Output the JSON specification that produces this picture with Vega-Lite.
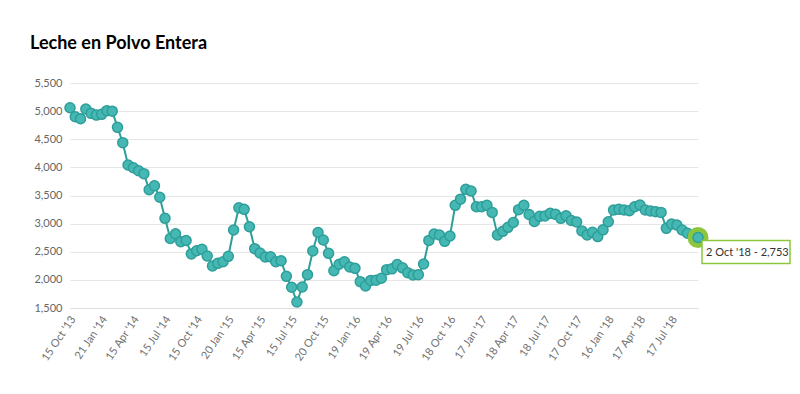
{
  "$schema": "https://vega.github.io/schema/vega-lite/v6.json",
  "autosize": {"type": "none"},
  "padding": {"left": 70, "top": 83, "right": 102, "bottom": 86},
  "width": 628,
  "height": 225,
  "background": "#ffffff",
  "title": {
    "text": "Leche en Polvo Entera",
    "anchor": "start",
    "frame": "group",
    "font": "Lato",
    "fontSize": 18,
    "fontWeight": "bold",
    "color": "#000000",
    "dx": -40,
    "offset": 10,
    "baseline": "alphabetic"
  },
  "datasets": {
    "serie": [
      {"fecha": "15 Oct '13", "precio": 5061},
      {"fecha": "5 Nov '13", "precio": 4900},
      {"fecha": "19 Nov '13", "precio": 4865},
      {"fecha": "3 Dec '13", "precio": 5038},
      {"fecha": "17 Dec '13", "precio": 4961},
      {"fecha": "7 Jan '14", "precio": 4930},
      {"fecha": "21 Jan '14", "precio": 4943},
      {"fecha": "4 Feb '14", "precio": 5008},
      {"fecha": "18 Feb '14", "precio": 5000},
      {"fecha": "4 Mar '14", "precio": 4712},
      {"fecha": "18 Mar '14", "precio": 4439},
      {"fecha": "1 Apr '14", "precio": 4042},
      {"fecha": "15 Apr '14", "precio": 3994},
      {"fecha": "6 May '14", "precio": 3941},
      {"fecha": "20 May '14", "precio": 3888},
      {"fecha": "3 Jun '14", "precio": 3603},
      {"fecha": "17 Jun '14", "precio": 3674},
      {"fecha": "1 Jul '14", "precio": 3468},
      {"fecha": "15 Jul '14", "precio": 3094},
      {"fecha": "5 Aug '14", "precio": 2735},
      {"fecha": "19 Aug '14", "precio": 2820},
      {"fecha": "2 Sep '14", "precio": 2680},
      {"fecha": "16 Sep '14", "precio": 2700},
      {"fecha": "1 Oct '14", "precio": 2462},
      {"fecha": "15 Oct '14", "precio": 2518},
      {"fecha": "4 Nov '14", "precio": 2543},
      {"fecha": "18 Nov '14", "precio": 2424},
      {"fecha": "2 Dec '14", "precio": 2246},
      {"fecha": "16 Dec '14", "precio": 2294},
      {"fecha": "6 Jan '15", "precio": 2323},
      {"fecha": "20 Jan '15", "precio": 2418},
      {"fecha": "3 Feb '15", "precio": 2886},
      {"fecha": "17 Feb '15", "precio": 3283},
      {"fecha": "3 Mar '15", "precio": 3254},
      {"fecha": "17 Mar '15", "precio": 2945},
      {"fecha": "1 Apr '15", "precio": 2555},
      {"fecha": "15 Apr '15", "precio": 2478},
      {"fecha": "5 May '15", "precio": 2406},
      {"fecha": "19 May '15", "precio": 2410},
      {"fecha": "2 Jun '15", "precio": 2323},
      {"fecha": "16 Jun '15", "precio": 2341},
      {"fecha": "1 Jul '15", "precio": 2063},
      {"fecha": "15 Jul '15", "precio": 1868},
      {"fecha": "4 Aug '15", "precio": 1606},
      {"fecha": "18 Aug '15", "precio": 1873},
      {"fecha": "1 Sep '15", "precio": 2093},
      {"fecha": "15 Sep '15", "precio": 2513},
      {"fecha": "6 Oct '15", "precio": 2842},
      {"fecha": "20 Oct '15", "precio": 2708},
      {"fecha": "3 Nov '15", "precio": 2472},
      {"fecha": "17 Nov '15", "precio": 2163},
      {"fecha": "1 Dec '15", "precio": 2277},
      {"fecha": "15 Dec '15", "precio": 2323},
      {"fecha": "5 Jan '16", "precio": 2228},
      {"fecha": "19 Jan '16", "precio": 2205},
      {"fecha": "2 Feb '16", "precio": 1968},
      {"fecha": "16 Feb '16", "precio": 1891},
      {"fecha": "1 Mar '16", "precio": 1990},
      {"fecha": "15 Mar '16", "precio": 1995},
      {"fecha": "5 Apr '16", "precio": 2028},
      {"fecha": "19 Apr '16", "precio": 2182},
      {"fecha": "3 May '16", "precio": 2196},
      {"fecha": "17 May '16", "precio": 2273},
      {"fecha": "1 Jun '16", "precio": 2214},
      {"fecha": "15 Jun '16", "precio": 2128},
      {"fecha": "5 Jul '16", "precio": 2087},
      {"fecha": "19 Jul '16", "precio": 2093},
      {"fecha": "2 Aug '16", "precio": 2282},
      {"fecha": "16 Aug '16", "precio": 2702},
      {"fecha": "6 Sep '16", "precio": 2815},
      {"fecha": "20 Sep '16", "precio": 2797},
      {"fecha": "4 Oct '16", "precio": 2685},
      {"fecha": "18 Oct '16", "precio": 2780},
      {"fecha": "1 Nov '16", "precio": 3325},
      {"fecha": "15 Nov '16", "precio": 3435},
      {"fecha": "6 Dec '16", "precio": 3610},
      {"fecha": "20 Dec '16", "precio": 3580},
      {"fecha": "3 Jan '17", "precio": 3301},
      {"fecha": "17 Jan '17", "precio": 3300},
      {"fecha": "7 Feb '17", "precio": 3325},
      {"fecha": "21 Feb '17", "precio": 3200},
      {"fecha": "7 Mar '17", "precio": 2800},
      {"fecha": "21 Mar '17", "precio": 2863},
      {"fecha": "4 Apr '17", "precio": 2934},
      {"fecha": "18 Apr '17", "precio": 3020},
      {"fecha": "2 May '17", "precio": 3248},
      {"fecha": "16 May '17", "precio": 3325},
      {"fecha": "6 Jun '17", "precio": 3162},
      {"fecha": "20 Jun '17", "precio": 3040},
      {"fecha": "4 Jul '17", "precio": 3129},
      {"fecha": "18 Jul '17", "precio": 3135},
      {"fecha": "1 Aug '17", "precio": 3183},
      {"fecha": "15 Aug '17", "precio": 3165},
      {"fecha": "5 Sep '17", "precio": 3094},
      {"fecha": "19 Sep '17", "precio": 3141},
      {"fecha": "3 Oct '17", "precio": 3055},
      {"fecha": "17 Oct '17", "precio": 3028},
      {"fecha": "7 Nov '17", "precio": 2870},
      {"fecha": "21 Nov '17", "precio": 2800},
      {"fecha": "5 Dec '17", "precio": 2845},
      {"fecha": "19 Dec '17", "precio": 2770},
      {"fecha": "2 Jan '18", "precio": 2890},
      {"fecha": "16 Jan '18", "precio": 3034},
      {"fecha": "6 Feb '18", "precio": 3242},
      {"fecha": "20 Feb '18", "precio": 3254},
      {"fecha": "6 Mar '18", "precio": 3242},
      {"fecha": "20 Mar '18", "precio": 3230},
      {"fecha": "3 Apr '18", "precio": 3301},
      {"fecha": "17 Apr '18", "precio": 3331},
      {"fecha": "1 May '18", "precio": 3242},
      {"fecha": "15 May '18", "precio": 3224},
      {"fecha": "5 Jun '18", "precio": 3212},
      {"fecha": "19 Jun '18", "precio": 3200},
      {"fecha": "3 Jul '18", "precio": 2916},
      {"fecha": "17 Jul '18", "precio": 2993},
      {"fecha": "7 Aug '18", "precio": 2975},
      {"fecha": "21 Aug '18", "precio": 2886},
      {"fecha": "4 Sep '18", "precio": 2828},
      {"fecha": "18 Sep '18", "precio": 2780},
      {"fecha": "2 Oct '18", "precio": 2753}
    ],
    "ultimo": [
      {"fecha": "2 Oct '18", "precio": 2753, "etiqueta": "2 Oct '18  -  2,753"}
    ]
  },
  "encoding": {
    "x": {
      "field": "fecha",
      "type": "ordinal",
      "sort": null,
      "scale": {"type": "point", "padding": 0},
      "axis": {
        "title": null,
        "values": ["15 Oct '13", "21 Jan '14", "15 Apr '14", "15 Jul '14", "15 Oct '14", "20 Jan '15", "15 Apr '15", "15 Jul '15", "20 Oct '15", "19 Jan '16", "19 Apr '16", "19 Jul '16", "18 Oct '16", "17 Jan '17", "18 Apr '17", "18 Jul '17", "17 Oct '17", "16 Jan '18", "17 Apr '18", "17 Jul '18"],
        "labelAngle": -56,
        "labelAlign": "right",
        "labelBaseline": "middle",
        "labelFont": "Lato",
        "labelFontSize": 11,
        "labelColor": "#707070",
        "labelPadding": 9,
        "labelOffset": 3,
        "ticks": false,
        "domain": true,
        "domainColor": "#dddddd",
        "grid": false
      }
    },
    "y": {
      "field": "precio",
      "type": "quantitative",
      "scale": {"domain": [1500, 5500], "nice": false, "zero": false},
      "axis": {
        "title": null,
        "values": [1500, 2000, 2500, 3000, 3500, 4000, 4500, 5000, 5500],
        "format": ",.0f",
        "labelFont": "Lato",
        "labelFontSize": 11,
        "labelColor": "#666666",
        "labelPadding": 8,
        "ticks": false,
        "domain": false,
        "grid": true,
        "gridColor": "#e6e6e6",
        "gridWidth": 1
      }
    }
  },
  "layer": [
    {
      "data": {"name": "serie"},
      "mark": {"type": "line", "color": "#2e9e9a", "strokeWidth": 2},
      "encoding": {}
    },
    {
      "data": {"name": "serie"},
      "mark": {"type": "point", "shape": "circle", "filled": true, "fill": "#46b8b3", "stroke": "#2e9e9a", "strokeWidth": 1.5, "size": 100, "opacity": 1},
      "encoding": {}
    },
    {
      "data": {"name": "ultimo"},
      "mark": {"type": "point", "shape": "circle", "filled": true, "fill": "#8cc63e", "stroke": "#8cc63e", "strokeWidth": 0, "size": 440, "opacity": 1},
      "encoding": {}
    },
    {
      "data": {"name": "ultimo"},
      "mark": {"type": "point", "shape": "circle", "filled": true, "fill": "#46b8b3", "stroke": "#2e9e9a", "strokeWidth": 1.5, "size": 100, "opacity": 1},
      "encoding": {}
    },
    {
      "data": {"name": "ultimo"},
      "mark": {"type": "point", "shape": "M-1,-0.26L1,-0.26L1,0.26L-1,0.26Z", "filled": false, "fill": "#ffffff", "fillOpacity": 1, "stroke": "#8cc63e", "strokeWidth": 1.5, "size": 7744, "opacity": 1, "xOffset": 48, "yOffset": 14.5},
      "encoding": {}
    },
    {
      "data": {"name": "ultimo"},
      "mark": {"type": "text", "align": "left", "baseline": "middle", "font": "Lato", "fontSize": 11, "color": "#333333", "dx": 8, "dy": 15},
      "encoding": {"text": {"field": "etiqueta"}}
    }
  ],
  "config": {
    "view": {"stroke": null}
  }
}
